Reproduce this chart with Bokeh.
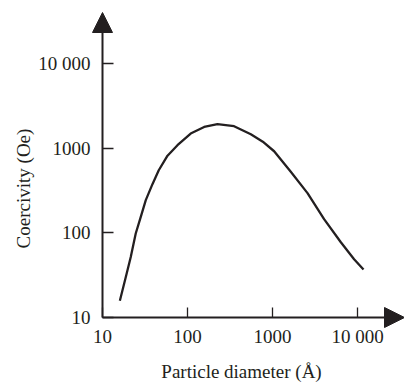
import math
from bokeh.plotting import figure
from bokeh.models import (Range1d, FixedTicker, CustomJSTickFormatter, Label,
                          Arrow, NormalHead)
from bokeh.embed import file_html
from bokeh.resources import INLINE

# Particle diameter (Å) and coercivity (Oe)
diameter = [16.0, 18.8, 21.5, 24.6, 28.2, 32.3, 38.7, 45.9, 58.2, 76.2, 109,
            157, 225, 353, 556, 769, 1045, 1641, 2582, 4045, 6370, 9120, 11770]
coercivity = [15.8, 30.1, 51.9, 98.2, 154, 243, 375, 548, 813, 1081, 1486,
              1778, 1914, 1814, 1459, 1191, 918, 526, 294, 145, 77.4, 48.8, 36.9]

x_ticks = [10, 100, 1000, 10000]
x_tick_labels = ["10", "100", "1000", "10 000"]
y_ticks = [10, 100, 1000, 10000]
y_tick_labels = ["10", "100", "1000", "10 000"]

x_title = "Particle diameter (Å)"
y_title = "Coercivity (Oe)"

INK = "#231f20"
FONT = "Liberation Serif"
FS = "19px"

W, H = 404, 382
# pixel position of the axes' origin (10, 10) and the arrow tips
OX, OY = 102, 317
TIP_X, TIP_Y = 404, 12
dec_x = 85.0
dec_y = 84.7
x_start = 10 ** (1 - OX / dec_x)
x_end = 10 ** (1 + (W - OX) / dec_x)
y_start = 10 ** (1 - (H - OY) / dec_y)
y_end = 10 ** (1 + OY / dec_y)
x_tip = 10 ** (1 + (TIP_X - OX) / dec_x)
y_tip = 10 ** (1 + (OY - TIP_Y) / dec_y)

p = figure(width=W, height=H, x_axis_type="log", y_axis_type="log",
           x_range=Range1d(x_start, x_end), y_range=Range1d(y_start, y_end),
           output_backend="svg", toolbar_location=None,
           min_border=0)
p.outline_line_color = None
p.grid.visible = False
p.background_fill_color = "white"
p.border_fill_color = "white"

fmt_code = """
for (let i = 0; i < vals.length; i++) {
  if (Math.abs(Math.log10(tick) - Math.log10(vals[i])) < 1e-6) return labs[i];
}
return '';
"""
for ax, ticks, labs in ((p.xaxis[0], x_ticks, x_tick_labels),
                        (p.yaxis[0], y_ticks, y_tick_labels)):
    ax.fixed_location = 10
    ax.ticker = FixedTicker(ticks=ticks, minor_ticks=[])
    ax.formatter = CustomJSTickFormatter(args=dict(vals=ticks, labs=labs), code=fmt_code)
    ax.axis_line_color = None
    ax.major_tick_line_color = INK
    ax.major_tick_line_width = 1.3
    ax.major_tick_out = 0
    ax.minor_tick_line_color = None
    ax.major_label_text_font = FONT
    ax.major_label_text_font_size = FS
    ax.major_label_text_color = INK

p.xaxis.major_tick_in = 10
p.yaxis.major_tick_in = 11
p.xaxis.major_label_standoff = 8
p.yaxis.major_label_standoff = 12

p.line(diameter, coercivity, line_color=INK, line_width=2.3, line_join="round")

# axes drawn as arrows
p.add_layout(Arrow(end=NormalHead(size=20, fill_color=INK, line_color=INK),
                   x_start=10, y_start=10, x_end=10, y_end=y_tip,
                   line_color=INK, line_width=2))
p.add_layout(Arrow(end=NormalHead(size=20, fill_color=INK, line_color=INK),
                   x_start=10, y_start=10, x_end=x_tip, y_end=10,
                   line_color=INK, line_width=2))

p.add_layout(Label(x=241, y=H - 371, x_units="screen", y_units="screen",
                   text=x_title, text_font=FONT, text_font_size=FS, text_color=INK,
                   text_align="center", text_baseline="alphabetic"))
p.add_layout(Label(x=23, y=H - 188, x_units="screen", y_units="screen",
                   text=y_title, text_font=FONT, text_font_size=FS, text_color=INK,
                   angle=math.pi / 2, text_align="center", text_baseline="middle"))

open("out.html", "w").write(file_html(p, INLINE))
